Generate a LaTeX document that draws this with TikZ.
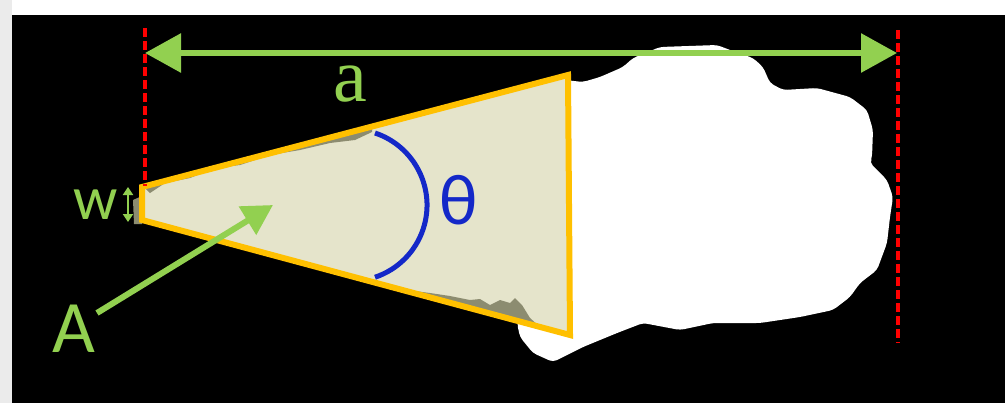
\documentclass[tikz,border=0pt]{standalone}
\usepackage{fontspec}
\setmainfont{Carlito}
\newfontfamily\serifa{Liberation Serif}
\usetikzlibrary{arrows.meta,positioning}
\definecolor{leafgreen}{RGB}{146,208,80}
\definecolor{gold}{RGB}{255,192,0}
\definecolor{wedgefill}{RGB}{229,228,203}
\definecolor{rimgray}{RGB}{140,140,112}
\definecolor{arcblue}{RGB}{20,40,200}
\definecolor{sidegray}{RGB}{235,235,235}
\tikzset{
    measure/.style={draw=red, line width=1.8pt, dash pattern=on 4.5pt off 2pt},
    dimline/.style={draw=leafgreen, line width=3pt, {Triangle[length=18pt,width=19pt]}-{Triangle[length=18pt,width=19pt]}},
    pointer/.style={draw=leafgreen, line width=3pt, -{Triangle[length=15pt,width=16pt]}},
    thin arrow/.style={draw=leafgreen, line width=1.2pt, {Triangle[length=4pt,width=5pt]}-{Triangle[length=4pt,width=5pt]}},
    wedge/.style={draw=gold, line width=3pt, fill=wedgefill, line join=miter},
    tag/.style={text=leafgreen, inner sep=0pt}
}

\begin{document}
\begin{tikzpicture}[x=0.5pt, y=-0.5pt]
    \useasboundingbox (0,0) rectangle (1005,403);
    % frame and background
    \fill[sidegray] (0,0) rectangle (12,403);
    \fill[black] (12,15) rectangle (1005,403);
    % cloud
    \fill[white, rounded corners=2pt] (540,290) -- (565,80) -- (583,82) -- (600,77) -- (623,67) -- (633,58)
        -- (660,47) -- (717,45) -- (730,50) -- (753,58) -- (763,67) -- (770,83) -- (783,90) -- (817,88)
        -- (850,97) -- (867,110) -- (873,130) -- (872,157) -- (870,163) -- (887,180) -- (893,197)
        -- (890,217) -- (887,243) -- (877,270) -- (860,283) -- (850,297) -- (833,310) -- (800,317)
        -- (760,323) -- (713,323) -- (680,330) -- (643,323) -- (617,333) -- (583,347) -- (553,362)
        -- (533,353) -- (520,337) -- (517,323) -- (520,315) -- cycle;
    % wedge
    \fill[wedgefill] (142,187) -- (568,75) -- (570,335) -- (142,220) -- cycle;
    \fill[rimgray] (145,188) -- (372,128) -- (372,132) -- (355,140) -- (330,143) -- (300,150) -- (270,155)
        -- (240,165) -- (215,168) -- (190,178) -- (165,183) -- (150,193) -- cycle;
    \fill[rimgray] (400,289) -- (430,293) -- (450,296) -- (470,300) -- (480,299) -- (490,305) -- (500,300)
        -- (510,303) -- (515,298) -- (522,305) -- (530,318) -- (540,327) -- cycle;
    \fill[rimgray] (133,200) -- (142,196) -- (142,224) -- (134,224) -- cycle;
    \draw[wedge, fill=none] (142,187) -- (568,75) -- (570,335) -- (142,220) -- cycle;
    % angle
    \draw[arcblue, line width=2.5pt] (375,133) arc[start angle=-71.6, end angle=71.6, radius=76];
    \node[text=arcblue, inner sep=0pt, font=\fontsize{36}{38}\selectfont] (theta) at (459,200) {θ};
    % measure lines
    \coordinate (aleft) at (145,53);
    \coordinate (aright) at (897,53);
    \draw[measure] (145,28) -- (145,186);
    \draw[measure] (898,30) -- (898,343);
    \draw[dimline] (aleft) -- (aright);
    \node[tag, font=\serifa\fontsize{38}{40}\selectfont] (alabel) at (350,84) {a};
    % w
    \coordinate (wtop) at (128,187);
    \coordinate (wbot) at (128,222);
    \draw[thin arrow] (wtop) -- (wbot);
    \node[tag, font=\fontsize{31}{33}\selectfont] (wlabel) at (96,205) {w};
    % A
    \node[tag, font=\fontsize{37}{39}\selectfont] (Alabel) at (74,329) {A};
    \coordinate (atail) at (97,313);
    \coordinate (ahead) at (273,205);
    \draw[pointer] (atail) -- (ahead);
\end{tikzpicture}
\end{document}
